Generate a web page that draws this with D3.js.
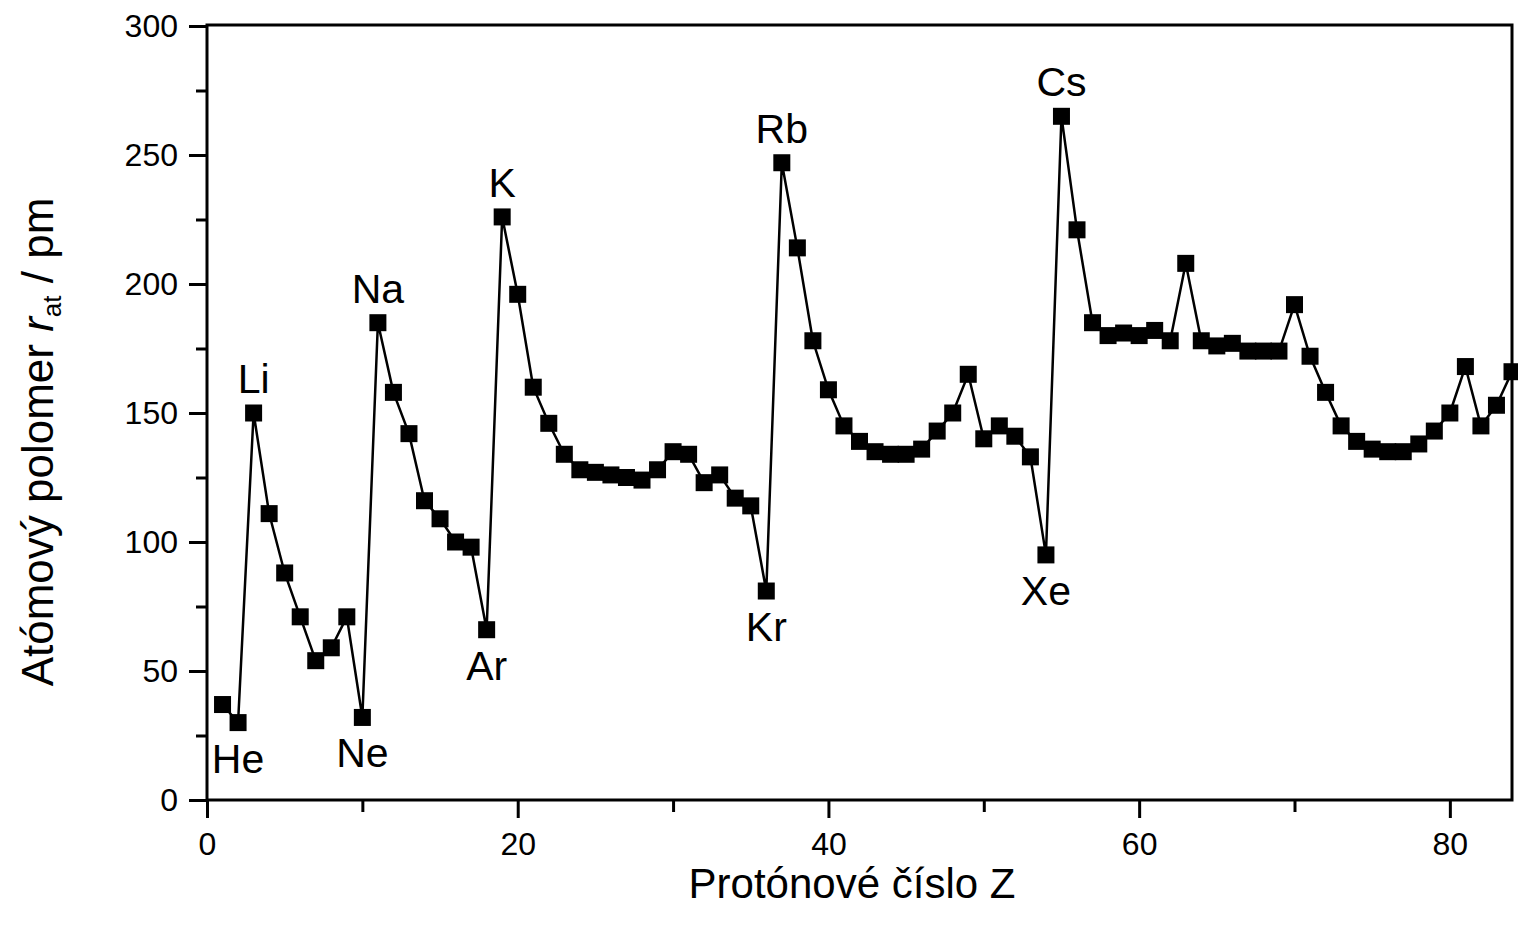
<!DOCTYPE html>
<html lang="sk">
  <head>
    <meta charset="UTF-8" />
    <title>Atómový polomer vs. protónové číslo</title>
    <script src="https://cdn.jsdelivr.net/npm/d3@7"></script>
    <style>
      body {
        margin: 0;
        background: #fff;
      }
      svg text {
        font-family: 'Liberation Sans', Arial, sans-serif;
        fill: #000;
      }
      .frame {
        fill: none;
        stroke: #000;
        stroke-width: 3px;
      }
      .axis path {
        display: none;
      }
      .axis line {
        stroke: #000;
        stroke-width: 3px;
      }
      .series {
        fill: none;
        stroke: #000;
        stroke-width: 2.5px;
      }
    </style>
  </head>
  <body>
    <svg width="1518" height="937"></svg>
    <script>
      // protónové číslo Z = 1..84
      const protonNumbers = d3.range(1, 85);
      // atómový polomer (pm), odčítané z grafu
      const radii = [
        37, 30, 150, 111, 88, 71, 54, 59, 71, 32,
        185, 158, 142, 116, 109, 100, 98, 66, 226, 196,
        160, 146, 134, 128, 127, 126, 125, 124, 128, 135,
        134, 123, 126, 117, 114, 81, 247, 214, 178, 159,
        145, 139, 135, 134, 134, 136, 143, 150, 165, 140,
        145, 141, 133, 95, 265, 221, 185, 180, 181, 180,
        182, 178, 208, 178, 176, 177, 174, 174, 174, 192,
        172, 158, 145, 139, 136, 135, 135, 138, 143, 150,
        168, 145, 153, 166
      ];
      const labelNames = ['He', 'Li', 'Ne', 'Na', 'Ar', 'K', 'Kr', 'Rb', 'Xe', 'Cs'];
      const labelZ = [2, 3, 10, 11, 18, 19, 36, 37, 54, 55];
      const labelSide = ['below', 'above', 'below', 'above', 'below', 'above', 'below', 'above', 'below', 'above'];

      const xTicks = [0, 20, 40, 60, 80];
      const xMinorTicks = [10, 30, 50, 70];
      const yTicks = [0, 50, 100, 150, 200, 250, 300];
      const yMinorTicks = [25, 75, 125, 175, 225, 275];

      const svg = d3.select('svg');
      const plotLeft = 207, plotRight = 1512, plotTop = 25, plotBottom = 800;

      const x = d3.scaleLinear().domain([0, 84]).range([plotLeft, plotRight]);
      const y = d3.scaleLinear().domain([0, 300]).range([plotBottom, 26]);

      const points = protonNumbers.map((z, i) => ({ z: z, r: radii[i] }));

      // axes
      svg.append('g')
        .attr('class', 'axis')
        .attr('transform', 'translate(0,' + plotBottom + ')')
        .call(d3.axisBottom(x).tickValues(xTicks).tickSize(18).tickPadding(14))
        .call(g => g.selectAll('text').attr('font-size', 32));
      svg.append('g')
        .attr('class', 'axis')
        .attr('transform', 'translate(0,' + plotBottom + ')')
        .call(d3.axisBottom(x).tickValues(xMinorTicks).tickSize(12).tickFormat(''));

      svg.append('g')
        .attr('class', 'axis')
        .attr('transform', 'translate(' + plotLeft + ',0)')
        .call(d3.axisLeft(y).tickValues(yTicks).tickSize(18).tickPadding(11))
        .call(g => g.selectAll('text').attr('font-size', 32));
      svg.append('g')
        .attr('class', 'axis')
        .attr('transform', 'translate(' + plotLeft + ',0)')
        .call(d3.axisLeft(y).tickValues(yMinorTicks).tickSize(11).tickFormat(''));

      svg.append('rect')
        .attr('class', 'frame')
        .attr('x', plotLeft)
        .attr('y', plotTop)
        .attr('width', plotRight - plotLeft)
        .attr('height', plotBottom - plotTop);

      // data line + markers
      const line = d3.line().x(d => x(d.z)).y(d => y(d.r));
      svg.append('path').datum(points).attr('class', 'series').attr('d', line);

      svg.append('g')
        .selectAll('rect')
        .data(points)
        .enter()
        .append('rect')
        .attr('x', d => x(d.z) - 8.5)
        .attr('y', d => y(d.r) - 8.5)
        .attr('width', 17)
        .attr('height', 17)
        .attr('fill', '#000');

      // element labels
      svg.append('g')
        .selectAll('text')
        .data(labelNames)
        .enter()
        .append('text')
        .attr('x', (d, i) => x(labelZ[i]))
        .attr('y', (d, i) => {
          const py = y(radii[labelZ[i] - 1]);
          return labelSide[i] === 'above' ? py - 20 : py + 50;
        })
        .attr('text-anchor', 'middle')
        .attr('font-size', 41)
        .text(d => d);

      // axis titles
      svg.append('text')
        .attr('x', 852)
        .attr('y', 898)
        .attr('text-anchor', 'middle')
        .attr('font-size', 42)
        .text('Protónové číslo Z');

      const yTitle = svg.append('text')
        .attr('transform', 'translate(53,442) rotate(-90)')
        .attr('text-anchor', 'middle')
        .attr('font-size', 44);
      yTitle.append('tspan').text('Atómový polomer ');
      yTitle.append('tspan').attr('font-style', 'italic').text('r');
      yTitle.append('tspan').attr('font-size', 26).attr('dy', 8).text('at');
      yTitle.append('tspan').attr('dy', -8).text(' / pm');
    </script>
  </body>
</html>
